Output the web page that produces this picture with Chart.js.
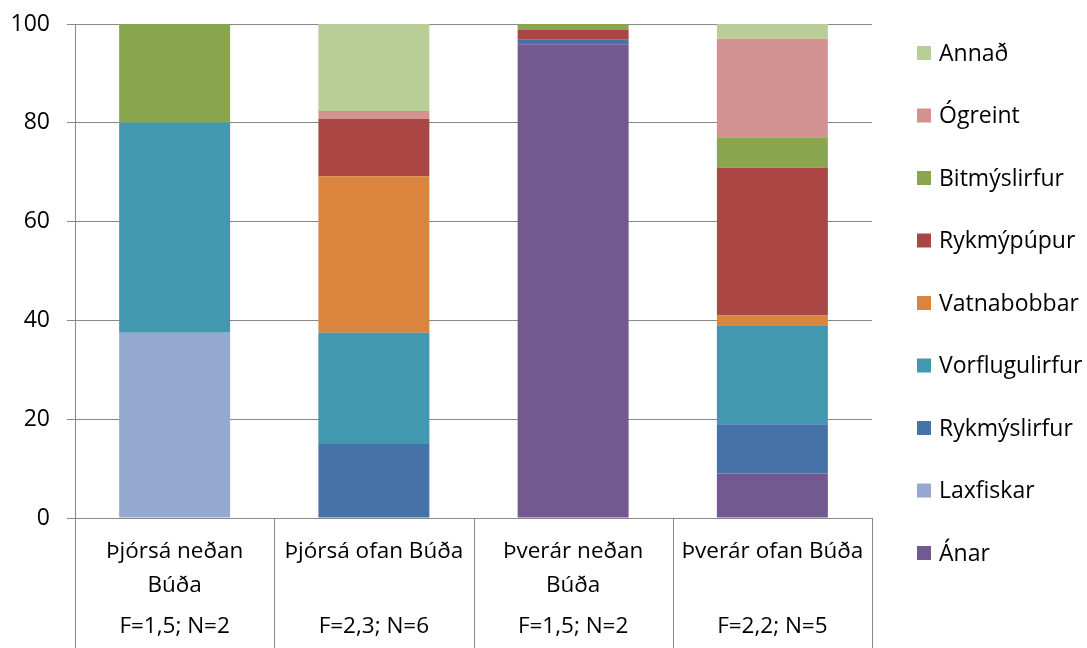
<!DOCTYPE html>
<html>
<head>
<meta charset="utf-8">
<script src="https://cdn.jsdelivr.net/npm/chart.js@4/dist/chart.umd.min.js"></script>
<style>
  html, body { margin: 0; padding: 0; background: #fff; }
  canvas { display: block; }
</style>
</head>
<body>
<canvas id="chart" width="1087" height="648"></canvas>
<script>
// Sampling sites (x-axis) and the sample statistics printed beneath them
const categories = [['Þjórsá neðan', 'Búða'], 'Þjórsá ofan Búða', ['Þverár neðan', 'Búða'], 'Þverár ofan Búða'];
const stats = ['F=1,5; N=2', 'F=2,3; N=6', 'F=1,5; N=2', 'F=2,2; N=5'];
const yTicks = [0, 20, 40, 60, 80, 100];

// Diet composition (%) per site, listed from the bottom of the stack upwards
const anar           = [0,    0,    95.9, 9];
const laxfiskar      = [37.5, 0,    0,    0];
const rykmyslirfur   = [0,    15,   0.9,  10];
const vorflugulirfur = [42.5, 22.5, 0,    20];
const vatnabobbar    = [0,    31.7, 0,    2];
const rykmypupur     = [0,    11.6, 2.1,  29.9];
const bitmyslirfur   = [20,   0,    1.1,  6.2];
const ogreint        = [0,    1.6,  0,    19.9];
const annad          = [0,    17.6, 0,    3];

const FONT = '"Open Sans", "DejaVu Sans", sans-serif';
const GRID = '#888888';

const datasets = [
  { label: 'Ánar',           data: anar,           backgroundColor: '#725990' },
  { label: 'Laxfiskar',      data: laxfiskar,      backgroundColor: '#95a9d0' },
  { label: 'Rykmýslirfur',   data: rykmyslirfur,   backgroundColor: '#4572a7' },
  { label: 'Vorflugulirfur', data: vorflugulirfur, backgroundColor: '#4198af' },
  { label: 'Vatnabobbar',    data: vatnabobbar,    backgroundColor: '#db843d' },
  { label: 'Rykmýpúpur',     data: rykmypupur,     backgroundColor: '#aa4643' },
  { label: 'Bitmýslirfur',   data: bitmyslirfur,   backgroundColor: '#89a54e' },
  { label: 'Ógreint',        data: ogreint,        backgroundColor: '#d39292' },
  { label: 'Annað',          data: annad,          backgroundColor: '#b9cd96' }
].map(d => Object.assign(d, { borderWidth: 0, barPercentage: 0.557, categoryPercentage: 1 }));

// Vertical rules separating the site labels below the plot
const categoryRules = {
  id: 'categoryRules',
  afterDraw(chart) {
    const xs = chart.scales.x;
    const n = xs.ticks.length;
    const ctx = chart.ctx;
    const edges = [xs.left];
    for (let i = 1; i < n; i++) edges.push((xs.getPixelForTick(i - 1) + xs.getPixelForTick(i)) / 2);
    edges.push(xs.right);
    ctx.save();
    ctx.strokeStyle = GRID;
    ctx.lineWidth = 1;
    ctx.beginPath();
    edges.forEach(x => {
      const px = Math.round(x) + 0.5;
      ctx.moveTo(px, chart.chartArea.bottom);
      ctx.lineTo(px, chart.height);
    });
    ctx.stroke();
    ctx.restore();
  }
};

// Legend drawn to the right of the plot, top entry = top of the stack
const sideLegend = {
  id: 'sideLegend',
  afterDraw(chart) {
    const ctx = chart.ctx;
    const items = chart.data.datasets.slice().reverse();
    const x0 = chart.chartArea.right + 45;
    const top = 53, step = 62.5, box = 14;
    ctx.save();
    ctx.font = '23px ' + FONT;
    ctx.textBaseline = 'middle';
    ctx.textAlign = 'left';
    items.forEach((ds, i) => {
      const y = top + i * step;
      ctx.fillStyle = ds.backgroundColor;
      ctx.fillRect(x0, y - box / 2, box, box);
      ctx.fillStyle = '#000';
      ctx.fillText(ds.label, x0 + box + 8, y + 1);
    });
    ctx.restore();
  }
};

new Chart(document.getElementById('chart'), {
  type: 'bar',
  data: { labels: categories, datasets },
  plugins: [categoryRules, sideLegend],
  options: {
    responsive: false,
    animation: false,
    devicePixelRatio: 1,
    layout: { padding: { left: 12, right: 215, top: 24, bottom: 0 } },
    plugins: { legend: { display: false }, tooltip: { enabled: false } },
    scales: {
      x: {
        stacked: true,
        offset: true,
        weight: 0,
        grid: { display: false, drawTicks: false },
        border: { display: true, color: GRID, width: 1 },
        ticks: { color: '#000', padding: 17, maxRotation: 0, autoSkip: false, font: { family: FONT, size: 22.5, lineHeight: 1.489 } },
        afterFit(scale) { scale.height = 96; }
      },
      x2: {
        type: 'category',
        position: 'bottom',
        weight: 1,
        labels: stats,
        offset: true,
        grid: { display: false, drawTicks: false },
        border: { display: false },
        ticks: { color: '#000', padding: 1, maxRotation: 0, autoSkip: false, font: { family: FONT, size: 22.5, lineHeight: 1 } },
        afterFit(scale) { scale.height = 34; }
      },
      y: {
        stacked: true,
        min: 0,
        max: 100,
        afterBuildTicks(scale) { scale.ticks = yTicks.map(v => ({ value: v })); },
        afterFit(scale) { scale.width = 63; scale.paddingTop = 0; scale.paddingBottom = 0; },
        grid: { color: GRID, lineWidth: 1, drawTicks: true, tickLength: 8 },
        border: { display: true, color: GRID, width: 1 },
        ticks: { color: '#000', padding: 17, font: { family: FONT, size: 23 } }
      }
    }
  }
});
</script>
</body>
</html>
